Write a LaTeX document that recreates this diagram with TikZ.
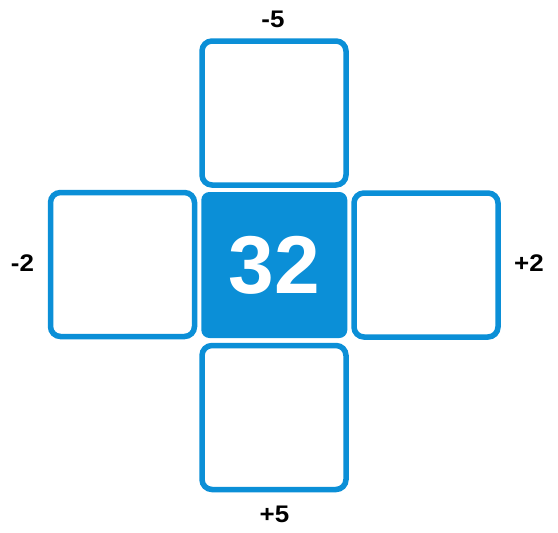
\documentclass[tikz,border=0pt]{standalone}
\usepackage{fontspec}
\setmainfont{Liberation Sans}
\definecolor{cblue}{HTML}{0B8FD7}
\begin{document}
\begin{tikzpicture}[x=1pt,y=-1pt,
  cell/.style={draw=cblue,line width=5.5pt,rounded corners=10pt,minimum width=144pt,minimum height=144pt,inner sep=0pt,fill=white},
  mid/.style={fill=cblue,rounded corners=8pt,minimum width=146pt,minimum height=146pt,inner sep=0pt,text=white,font=\fontsize{82}{82}\selectfont\bfseries},
  lbl/.style={inner sep=0pt,xscale=1.08,font=\fontsize{24}{24}\selectfont\bfseries}]
\useasboundingbox (0,0) rectangle (558,533);
\node[cell] (top) at (274,113) {};
\node[cell] (left) at (122.5,264.5) {};
\node[cell] (right) at (426,265) {};
\node[cell] (bottom) at (274,417.5) {};
\node[mid] (center) at (274.3,265) {32};
\node[lbl] (lt) at (273,19.5) {-5};
\node[lbl] (ll) at (22.5,263) {-2};
\node[lbl] (lr) at (529,263) {+2};
\node[lbl] (lb) at (274.5,514.5) {+5};
\end{tikzpicture}
\end{document}
